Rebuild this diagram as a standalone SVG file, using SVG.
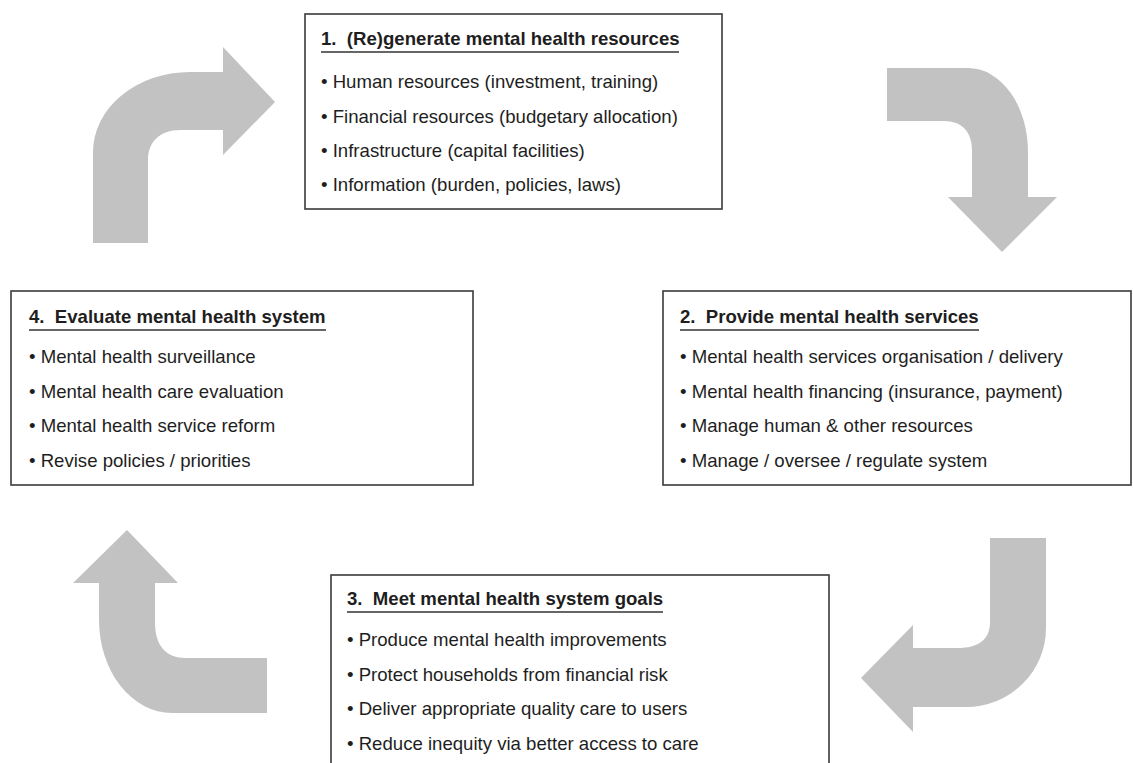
<svg xmlns="http://www.w3.org/2000/svg" width="1133" height="763" viewBox="0 0 1133 763">
<style>
.box{fill:#fff;stroke:#3a3a3a;stroke-width:1.6}
.arrow{fill:#c2c2c2}
.t{font-family:"Liberation Sans",Arial,sans-serif;font-size:18.6px;fill:#1e1e1e}
.h{font-weight:bold}
.ul{stroke:#333;stroke-width:1.6}
</style>
<rect width="1133" height="763" fill="#fff"/>
<g id="connectors">
<path class="arrow" d="M93 243 L93 152 A97 80 0 0 1 190 72 L223 72 L223 47 L275 102 L223 155 L223 130 L180 130 C160 130 148 142 148 160 L148 243 Z"/>
<path class="arrow" d="M887 68 L968 68 A60 84 0 0 1 1028 152 L1028 197 L1057 197 L1002 252 L948 197 L972 197 L972 150 C972 132 962 121 944 121 L887 121 Z"/>
<path class="arrow" d="M990 538 L1046 538 L1046 628 A80 79 0 0 1 966 707 L913 707 L913 732 L861 678 L913 625 L913 648 L958 648 C978 648 990 640 990 622 Z"/>
<path class="arrow" d="M267 658 L267 713 L172 713 A73 93 0 0 1 99 620 L99 583 L73 583 L127 530 L178 583 L155 583 L155 622 C155 646 166 658 186 658 Z"/>
</g>
<g id="node1">
<rect class="box" x="305" y="14" width="417" height="195"/>
<text class="t h" x="321" y="45">1.&#160; (Re)generate mental health resources</text>
<line class="ul" x1="321" y1="52" x2="679" y2="52"/>
<text class="t" x="321" y="88">• Human resources (investment, training)</text>
<text class="t" x="321" y="122.5">• Financial resources (budgetary allocation)</text>
<text class="t" x="321" y="157">• Infrastructure (capital facilities)</text>
<text class="t" x="321" y="191">• Information (burden, policies, laws)</text>
</g>
<g id="node2">
<rect class="box" x="663" y="291" width="468" height="194"/>
<text class="t h" x="680" y="323">2.&#160; Provide mental health services</text>
<line class="ul" x1="680" y1="330" x2="979" y2="330"/>
<text class="t" x="680" y="363">• Mental health services organisation / delivery</text>
<text class="t" x="680" y="397.5">• Mental health financing (insurance, payment)</text>
<text class="t" x="680" y="432">• Manage human &amp; other resources</text>
<text class="t" x="680" y="466.5">• Manage / oversee / regulate system</text>
</g>
<g id="node3">
<rect class="box" x="331" y="575" width="498" height="200"/>
<text class="t h" x="347" y="605">3.&#160; Meet mental health system goals</text>
<line class="ul" x1="347" y1="612" x2="663" y2="612"/>
<text class="t" x="347" y="646">• Produce mental health improvements</text>
<text class="t" x="347" y="680.5">• Protect households from financial risk</text>
<text class="t" x="347" y="715">• Deliver appropriate quality care to users</text>
<text class="t" x="347" y="749.5">• Reduce inequity via better access to care</text>
</g>
<g id="node4">
<rect class="box" x="11" y="291" width="462" height="194"/>
<text class="t h" x="29" y="323">4.&#160; Evaluate mental health system</text>
<line class="ul" x1="29" y1="330" x2="326" y2="330"/>
<text class="t" x="29" y="363">• Mental health surveillance</text>
<text class="t" x="29" y="397.5">• Mental health care evaluation</text>
<text class="t" x="29" y="432">• Mental health service reform</text>
<text class="t" x="29" y="466.5">• Revise policies / priorities</text>
</g>
</svg>
